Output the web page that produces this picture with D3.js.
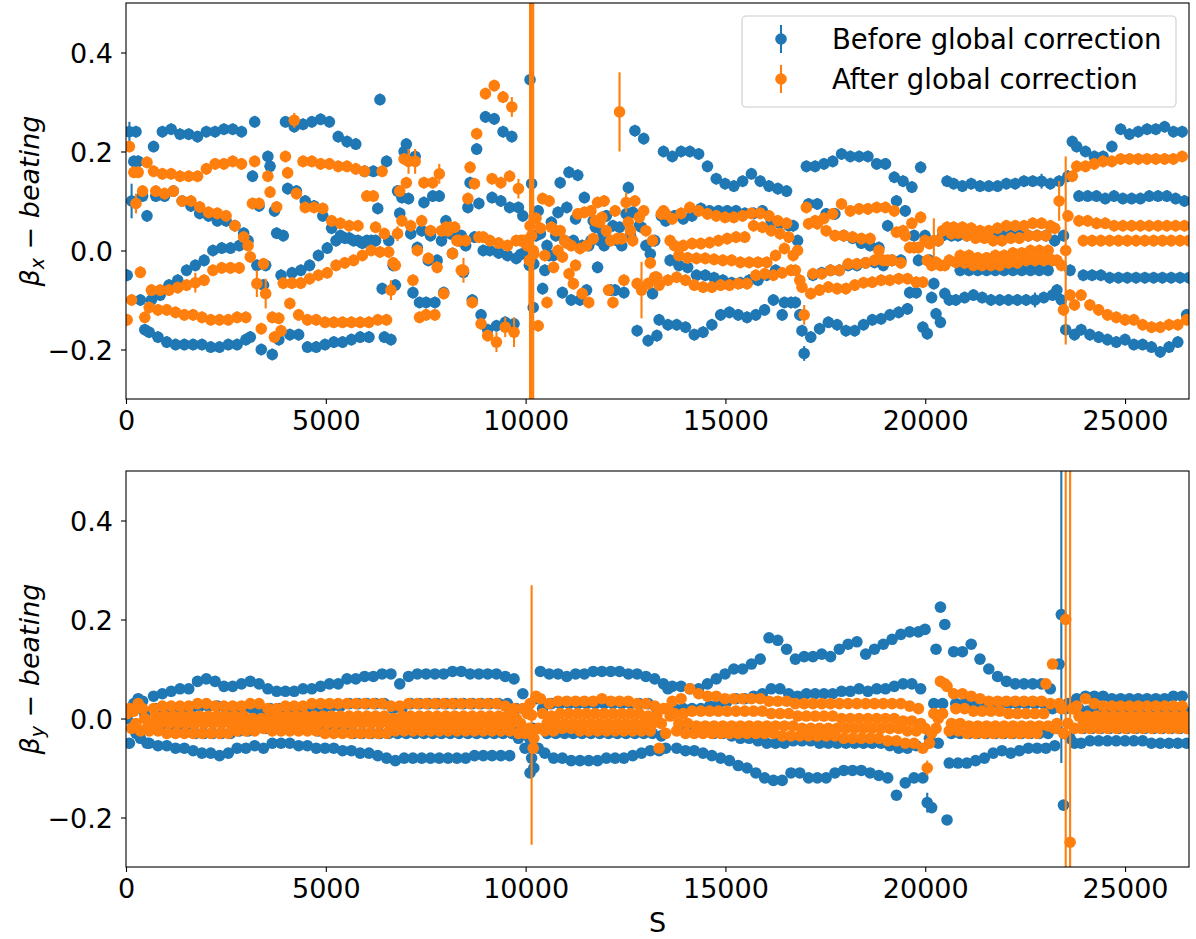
<!DOCTYPE html>
<html>
<head>
<meta charset="utf-8">
<script src="https://cdn.jsdelivr.net/npm/d3@7"></script>
<style>
  body { margin: 0; background: #fff; }
  svg { display: block; }
  text { font-family: "DejaVu Sans", sans-serif; }
</style>
</head>
<body>
<svg id="chart" width="1196" height="939"></svg>
<script>
// BPM longitudinal positions (m)
const S = [
30,85,140,195,250,305,360,415,470,525,
580,635,690,745,800,855,910,965,1020,1075,
1130,1185,1240,1295,1350,1405,1460,1515,1570,1625,
1680,1735,1790,1845,1900,1955,2010,2065,2120,2175,
2230,2285,2340,2395,2450,2505,2560,2615,2670,2725,
2780,2835,2890,2945,3000,3055,3110,3165,3220,3275,
3330,3385,3440,3495,3550,3605,3660,3715,3770,3825,
3880,3935,3990,4045,4100,4155,4210,4265,4320,4375,
4430,4485,4540,4595,4650,4705,4760,4815,4870,4925,
4980,5035,5090,5145,5200,5255,5310,5365,5420,5475,
5530,5585,5640,5695,5750,5805,5860,5915,5970,6025,
6080,6135,6190,6245,6300,6355,6410,6465,6520,6575,
6630,6685,6740,6795,6850,6905,6960,7015,7070,7125,
7180,7235,7290,7345,7400,7455,7510,7565,7620,7675,
7730,7785,7840,7895,7950,8005,8060,8115,8170,8225,
8280,8335,8390,8445,8500,8555,8610,8665,8720,8775,
8830,8885,8940,8995,9050,9105,9160,9215,9270,9325,
9380,9435,9490,9545,9600,9655,9710,9765,9820,9875,
9930,9985,10040,10095,10110,10150,10190,10205,10260,10315,10370,10425,
10480,10535,10590,10645,10700,10755,10810,10865,10920,10975,
11030,11085,11140,11195,11250,11305,11360,11415,11470,11525,
11580,11635,11690,11745,11800,11855,11910,11965,12020,12075,
12130,12185,12240,12295,12350,12405,12460,12515,12570,12625,
12680,12735,12790,12845,12900,12955,13010,13065,13120,13175,
13230,13285,13340,13395,13450,13505,13560,13615,13670,13725,
13780,13835,13890,13945,14000,14055,14110,14165,14220,14275,
14330,14385,14440,14495,14550,14605,14660,14715,14770,14825,
14880,14935,14990,15045,15100,15155,15210,15265,15320,15375,
15430,15485,15540,15595,15650,15705,15760,15815,15870,15925,
15980,16035,16090,16145,16200,16255,16310,16365,16420,16475,
16530,16585,16640,16695,16750,16805,16860,16915,16970,17025,
17080,17135,17190,17245,17300,17355,17410,17465,17520,17575,
17630,17685,17740,17795,17850,17905,17960,18015,18070,18125,
18180,18235,18290,18345,18400,18455,18510,18565,18620,18675,
18730,18785,18840,18895,18950,19005,19060,19115,19170,19225,
19280,19335,19390,19445,19500,19555,19610,19665,19720,19775,
19830,19885,19940,19995,20050,20105,20160,20215,20270,20325,
20380,20435,20490,20545,20600,20655,20710,20765,20820,20875,
20930,20985,21040,21095,21150,21205,21260,21315,21370,21425,
21480,21535,21590,21645,21700,21755,21810,21865,21920,21975,
22030,22085,22140,22195,22250,22305,22360,22415,22470,22525,
22580,22635,22690,22745,22800,22855,22910,22965,23020,23075,
23130,23185,23240,23295,23350,23405,23460,23515,23570,23625,
23680,23735,23790,23845,23900,23955,24010,24065,24120,24175,
24230,24285,24340,24395,24450,24505,24560,24615,24670,24725,
24780,24835,24890,24945,25000,25055,25110,25165,25220,25275,
25330,25385,25440,25495,25550,25605,25660,25715,25770,25825,
25880,25935,25990,26045,26100,26155,26210,26265,26320,26375,
26430,26485,26540,26595
];

// Horizontal beta-beating (%), before and after the global correction
const bxBefore = [
-5,24,10,18,24,18,-10,11,-16,7,
-16.5,-10,21,11,-17.5,-9,24,11,-18.5,-7,
24.5,12,-19,-6,23.5,10,-19,-4,23.5,9,
-19,-3,23,7.5,-19,-2,24,7,-19.5,0,
24,6,-19.5,0.5,24.5,6,-19,0.5,24.5,5,
-19,1,24,3.5,-18,2,-17.5,15,26,-3,
9,-20,-7,-3,19,17,-21,8,3.5,-18,
-5,3,26,12.5,-17,-4.5,25,12,-17,-4,
25.5,10,-19.5,-3,26,9,-19.5,-1,26.5,7,
-19,0.5,26,4.5,-18.5,2,23,3,-18.5,2.5,
22,2.5,-18,2,21.5,2,-17.5,1.5,16,2,
-17.5,2,16,2,8.5,30.5,-7.7,-17.5,18,2,
-18,-3,-7,12,7.5,10.7,20,21.5,10.5,3.4,
-8.5,19,0.6,-10.5,4,9.7,-10.5,-2,3,11,
-10.5,-2,11,2,-8.5,6,4,3.4,-0.6,3.4,
3,2,3,-4.4,1,8.7,13.7,-10,2.7,20.5,
9.5,-13,0,27,-16,0,10.7,26.6,-15.2,-0.5,
10,24,-14.5,-1,8.7,23,-14.8,-1.6,8.7,-0.8,
7,-0.5,0.5,-3,34.5,13.5,-11.5,-2.7,3,8,3.4,-7.7,
-4,1,-1,5.7,-1,3,7.7,13.7,-8.5,2,
8.7,15.8,-10,2,6.4,15.2,-10,1,10.7,-8,
1,2,6,4.7,-3.4,2,4,1,7,2,
-8,5,-8,2,4.7,1,-8.5,7.4,12.7,3,
7.7,24.2,-16.2,5,4.7,22.6,1,-18.2,-0.7,-8.7,
2,-17.2,-14,7,20,6,-15,-2,19,7,
-15,-3,20,6.4,-15.5,-3.4,20,7,-17,-5,
19.5,8.5,-16.5,-5,17,8,-15,-5.5,14.5,8,
-13,-6,13.5,8,-12.5,-6.5,13,8,-13,-6.5,
14,7.5,-13.5,-6,15.5,7.5,-13,-6,14,8,
-12,-5,13,6,-10,-4,12.5,5.5,-13,-10.5,
12,5,-10.5,5,-10.5,2,-13,-16.2,-20.8,17,
9.4,-17.5,-5,17,9.4,-15.8,-4.5,17.5,7.4,-14.5,
-4,18,7.4,-15,-4,19.5,3,-16.2,-3,19,
2.5,-16.2,-3,19,1.5,-15,-2.5,19,1,-14,
-2.4,17.5,0.6,-13.8,-3,17.5,5,-13,-2,14.8,
10,-12.5,-2,14,8,-11.8,-8.5,12.8,3,-8.5,
-2,16.8,-15.5,3,-16.8,-2,-9.5,-6.7,-12.8,2,
-14.5,3,-8.7,14,-10,3,13.5,-10,3,-4,
13,-9.5,3,-4,13.5,-9,3,-4,13,-9.5,
3,-4,13,-10,3,-4,13,-10,3,-4,
13.5,-10,3,-4,13.5,-10,3,-4,14,-10,
3,-4,14,-10,3,-4,14,-9.5,3,-4,
13.5,-9,2,-8,14,-10,3,-16,15,-4,
22,-17,21,11,-16,-5,20,11,-17,-5,
19,11,-17.5,-5,19,10.5,-18,-5.5,21,11,
-18.5,-5.5,24.5,10.5,-18,-5.5,23.5,10.5,-19,-5.5,
24,10.5,-19,-5.5,24.5,11,-19.5,-5.5,24.5,11,
-20.5,-5.5,25,11,-19.5,-5.5,24,10.5,-18.5,-5.5,
24,10,-13,-5.5
];
const bxAfter = [
-14,21,-10,15.8,9.5,15.8,-4.4,12,-13.5,17.8,
-11.5,-8,16,12,-12,-8,15.5,11.5,-12,-8,
15.5,12,-12.5,-7.5,15,10,-13,-7,15,10,
-13,-6.5,15,8.8,-13.5,-6,16.5,7.7,-14,-4,
17.5,7.5,-14,-3.5,17.5,7,-14,-3.5,18,5,
-13.5,-3.5,17.5,2.7,-13.5,1,-1.3,9.5,18,-6.7,
9.5,-15.8,-2.7,-8.7,15,11.8,-13.5,-17.5,8.8,-13.7,
-16.2,-6.6,19,15.7,-10.7,-6.6,26.3,11.5,-13,-6.6,
18,8.7,-14,-5.7,18,8.7,-14,-5,17.5,8.5,
-14.5,-4.5,17.5,6,-14.5,-3,17,5.5,-14.5,-2.5,
17,5,-14.5,-2,16.5,5,-14.5,-1,16,11,
-14.5,0,11,4.7,-14,-0.3,16,3.4,-14,-0.3,
-8,-2.5,-3,3.4,12,6,18.5,13.7,18,5,
-6,18,0,-13.5,6,13.7,-13,-1.6,4,13.7,
-13,-3.4,15.5,4,-8.7,4.7,4,4.7,-0.6,4.7,
2,2,-4,-4,2,10.5,16.8,-10.5,13.5,23.6,
2.7,-14.8,2.7,31.7,-17.2,2,14.5,33.3,-18.5,1.5,
13.7,31,-15.5,1,15,29,-16.5,2,12.5,2,
2,2,1,-2,5,3,0,-0.7,6.5,-15.2,4.5,10.5,
-1,-10.5,10,4.7,-3.4,4,0,4,-1.3,2,
1.5,-4.7,1,-6.7,-3,7.4,0.4,-8.7,7.7,1,
-10.5,8,2.4,6,9.7,5.7,6.7,10,4,-8,
2,-10.5,8,2.4,28,2.4,-6,9.7,5.7,4,
2,10,-6.7,6.7,-8,8,4,-6.7,-2.5,2,
-5.4,-5.4,-7,7.4,8,7.4,-6,2,6.4,1,
-5.4,-1,7.5,1,-6,-1.5,8.7,1.4,-7,-1.6,
8,1.4,-7.4,-1.6,7.4,1.6,-7.4,-1.8,7,2,
-7,-2,6.7,2.4,-7,-2,6.7,2.7,-6.7,-2.4,
7,2.7,-6.7,-2.4,7.5,5,-5,-2.4,7.5,4.7,
-4.7,-2.4,7,4,-5,-1,6,3.4,-4.5,0.4,
5.5,2.7,-4,-1,-4,0,-6,-7.4,-13,8.7,
5.4,-8.7,-4.7,6,5.4,-8,-4.7,6.5,4,-7.4,
-4,7.4,3,-7.7,-4,9.4,3,-7.7,-2.7,8,
2.7,-7,-2.7,8.4,2.4,-6.5,-2.5,8.4,2.4,-6.4,
-2,8.7,0,-6,-2,8.7,-2,-6,-2,8,
3.7,-5.7,-2.5,4,3,-5.7,0.6,5.5,0.6,-6.4,
0.6,6.7,-6.4,2,-2,1.4,-3,2,-2.4,2,
-3,4,-3,4.7,-2,3.4,4.7,-2.4,3.5,-1,
4.7,-2.5,3,-1,4.5,-3,2.5,-1.5,4,-3,
2.5,-1.5,4,-3,2,-1,4.5,-3,2,-1,
5,-2.5,2.5,-0.5,5,-2.5,2.5,-0.5,5,-2,
3,0,5.5,-2,3,0,5.5,-2,3,0,
5,-2,4.5,-2,10,-3,-12,0,7,-9,
15,-11,17,6,-9,2,17,6,-11,2,
17.5,5.5,-12,2,18,5.5,-13,2,18,5,
-13.5,2,18.5,5,-14,2,18.5,5,-14,2,
18.5,5,-15,2,18.5,5,-15.5,2,18.5,5,
-15.5,2,18.5,5,-15,2,18.5,5,-15,2,
19,5,-14,2
];

// Vertical beta-beating (%), before and after the global correction
const byBefore = [
0,-5,2,3,-3,4,-4,3.5,1,-5,
-5,-2,4.5,2,-5.5,-2,5,2,-5.5,-2.5,
5.5,2,-6,-2.5,6,2,-6,-2.5,6,2,
-6.5,-3,7.5,2.5,-7,-3,8,2.5,-7,-3,
7.5,2.5,-7.5,-3,6.5,2,-7,-3,6.5,2,
-6,-2.5,7,2,-6,-2.5,7.5,2,-5.5,-2,
7,1,-6,-2,6,2,-5,-2,5.5,2,
-5,-2,5.5,2,-5,-2,5.5,2,-5.5,-2,
6,2,-5.5,-2,6,2,-6,-2.5,6.5,2,
-6,-2.5,7,2.5,-6,-2.5,7,2.5,-6.5,-2.5,
8,3,-6.5,-3,8,3,-7,-3,8.5,3,
-7,-3,8.5,3,-7.5,-3,9,3,-8,-3,
9,2,-8.5,-3,7,2,-8,-3,8.5,3,
-8,-3,9,3,-8,-3,9,3,-8,-3,
9,3,-8,-3,9,3,-8,-3,9.5,3,
-8,-3,9.5,3,-8,-3,9,3,-7.5,-3,
9,3,-7.5,-3,9,3,-7.5,-3,9,3,
-7.5,-3,8.5,3,-7.5,-3,8,2,-4,-2,
5,-6,2,-4,-11,-8,-2,-10,4,-6,9.5,2,
-7,-3,9,3,-8,-3,9,3,-8,-3,
8.5,3,-8.5,-3,9,3,-8.5,-3,9,3,
-8.5,-3,9.5,3,-8.5,-3,9.5,3,-8,-3,
9.5,3,-8,-3,9.5,3,-8,-3,9,3,
-7.5,-3,9,3,-7,-3,8.5,3,-6.5,-3,
8,2,-6.5,-3.5,7,-6,6,2,6.5,2,
-6,-2,6.5,2,-6.5,-2.5,6,2,-6.5,-2.5,
6,2,-7,-2.5,7,2.5,-7.5,-3,8,3,
-8,-3,9,3.5,-8.5,-3.5,10,4,-9.5,-4,
10,4,-10,-4,11,4.5,-11,-4.5,12,5,
-12,-5,16.3,6,-12.5,-5,15.8,6,-12.5,-5,
14,5,-11,-4.5,12,4.5,-11,-4.5,12.5,5,
-12,-4.5,12.5,5,-12,-5,13,5,-12,-5,
12.5,5,-11,-5,14,5.5,-10.5,-5,15,5.5,
-10.5,-5,15.5,6,-10.5,-5,13,5.5,-11,-5,
14,6,-11.5,-5,15,6,-12,-5.5,16,6.5,
-15.5,-6,17,7,-13,-6,17.5,7,-12,-5.5,
17.5,6,-12,18,-17,-4,-18,3,14,-5,
22.5,3,19,-20.5,-9,-3,13.5,3,-9,-3,
13.5,3,-9,-3,15,3,-8.5,-3,12,3,
-8,-3,10,3,-7,-3,8.5,3,-6.5,-3,
7.5,3,-7,-3,7,3,-6.5,-3,7,3,
-6,-3,7,3,-6,-3,7,3,-6,-3,
6,2,-5.5,-2,11,21,-17.5,2,3,-4,
3,-5,4,2,-5,-2,4.5,1.5,-4.5,-2,
4.5,1.5,-4.5,-2,4.5,1.5,-4.5,-2,4,1.5,
-4.5,-2,4,1.5,-4.5,-2,4,1.5,-4.5,-2,
4,1.5,-4.5,-2,4,1.5,-5,-2,4,1.5,
-5,-2,4,1.5,-5,-2,4.5,1.5,-5,-2,
4.5,1.5,-5,-2
];
const byAfter = [
1,2,-2,1.5,-1,3,-2.5,2,0,-2,
-2.5,-1,2,0.5,-2.5,-1,2.5,0.5,-3,-1,
2.5,0.5,-3,-1,2.5,0.5,-3,-1,2.5,0.5,
-3,-1,3,0.5,-3,-1,3,0.5,-3,-1,
2.5,0.5,-3,-1,2.5,0.5,-3,-1,2.5,0.5,
-2.5,-1,2.5,0.5,-2.5,-1,3,0,-2.5,-1,
3,0,-2,-1,2,0.5,-2.5,-1,2,0.5,
-2.5,-1,2.5,0.5,-2.5,-1,2.5,0.5,-2.5,-1,
2.5,0.5,-2.5,-1,3,0.5,-2.5,-1,3,0.5,
-3,-1,3,0.5,-3,-1,3,0.5,-3,-1,
3,0.5,-3,-1,3,0.5,-3,-1,3,0.5,
-3,-1,3,0.5,-3,-1,3,0.5,-3,-1,
2.5,0,-2.5,-1,2.5,0.5,-2.5,-1,3,0.5,
-2.5,-1,3,0.5,-2.5,-1,3,0.5,-2.5,-1,
3,0.5,-2.5,-1,3,0.5,-2.5,-1,3,0.5,
-2.5,-1,3,0.5,-2.5,-1,3,0.5,-2.5,-1,
3,0.5,-2.5,-1,3,0.5,-2.5,-1,3,0.5,
-2.5,-1,2.5,0.5,-2.5,-1,2,0,-3,-1,
2,-3,1,-2,3,0.7,-6,-4,4.5,-2,4,1,
-2.5,-1,3,0.5,-2.5,-1,3.5,1,-2,-1,
3.5,1,-2,-1,3.5,1,-2.5,-1,3.5,1,
-2.5,-1,3.5,1,-2.5,-1,4,1,-2.5,-1,
3.5,1,-2.5,-1,3.5,1,-2.5,-1,3.5,1,
-2.5,-1,3,1,-2.5,-1,3,0.5,-2.5,-1,
2.5,0.5,-6,-1,2,-3,2,0.5,3.5,1,
-2.5,-1,4,1,-3,-1,6,1.5,-3,-1.5,
5,1.5,-3,-1.5,4.5,1.5,-3,-1.5,4.5,1.5,
-3,-1.5,4,1.5,-3,-1.5,4,1.5,-3,-1.5,
4,1.5,-3,-1.5,4,1.5,-3,-1.5,4,1.5,
-3,-1.5,3.5,1,-3,-1.5,3.5,1,-3.5,-1.5,
3.5,1,-3.5,-1.5,3,0.5,-3.5,-2,3,0.5,
-3.5,-2,3,0.5,-3.5,-2,3,0.5,-3.5,-2,
3,0.5,-3.5,-2,3,0,-4,-2,3,0,
-4,-2,3,0,-4,-2,3,0,-4,-2,
3,0,-4,-2,3,0,-4.5,-2,3,0,
-4.5,-2,3,-0.5,-5,-2.5,2.5,-0.5,-5,-2.5,
2,-1,-6,-2,-10,-5,-3,1,-2,0,
7.5,1,7,6.5,-2.5,-1,5,2,-2.5,-1,
5,2,-3,-1.5,4.5,1.5,-3,-1.5,4,1.5,
-3,-1.5,3.5,1.5,-3,-1.5,3.5,1.5,-3,-1.5,
3.5,1,-3,-1.5,3.5,1,-3,-1.5,3.5,1,
-3,-1.5,3.5,1,-3,-1.5,3.5,1,7,-1.5,
3,11,-2,-1,3,2,-3,20,-1,-25,
2,-2,2.5,0.5,-2,-1,4,0.5,-2,-1,
3,0.5,-2,-1,2.5,0.5,-2,-1,2.5,0.5,
-2,-1,2.5,0.5,-2,-1,2.5,0.5,-2,-1,
2.5,0.5,-2,-1,2.5,0.5,-2,-1,2.5,0.5,
-2,-1,2.5,0.5,-2,-1,2.5,0.5,-2,-1,
2.5,0.5,-2,-1
];

// Measurement uncertainties (%): a typical value per series plus [s, error] exceptions
const bxBeforeErrDefault = 1.2;
const bxAfterErrDefault = 1.2;
const byBeforeErrDefault = 1.0;
const byAfterErrDefault = 1.0;
const bxBeforeErr = [[85,2],[140,3.5],[6300,1.2],[16970,1.5],[22745,1.5],[22910,1.5]];
const bxAfterErr = [[250,2],[1735,2],[3275,2.7],[3495,3],[4210,1.5],[6630,2],[6795,1.5],[7070,2.5],[7235,2.5],
  [7840,2],[8445,2.5],[9270,2],[9490,2],[9655,2],[9710,3],[9820,2],[10095,9],[10110,60],[10150,60],[10190,60],
  [12350,8],[12515,2],[12900,5.7],[16970,2],[20215,4.5],[23350,4],[23515,19]];
const byBeforeErr = [[20050,2],[23405,30]];
const byAfterErr = [[10150,26.2],[20050,1.5],[23515,50],[23625,80]];

const seriesNames = ["Before global correction", "After global correction"];
const colors = ["#1f77b4", "#ff7f0e"];
const xTicks = [0, 5000, 10000, 15000, 20000, 25000];
const yTicks = [-0.2, 0.0, 0.2, 0.4];
const xDomain = [0, 26600];
const yDomain = [-0.3, 0.5];

const svg = d3.select("#chart");
const FS = 27;
const R = 5.8;
const left = 126, right = 1189, panelH = 396;
const x = d3.scaleLinear().domain(xDomain).range([left, right]);

function drawPanel(top, before, after, errs, defs, sub, withLegend) {
  const y = d3.scaleLinear().domain(yDomain).range([top + panelH, top]);
  const clipId = "clip" + top;
  svg.append("clipPath").attr("id", clipId)
    .append("rect").attr("x", left).attr("y", top).attr("width", right - left).attr("height", panelH);
  const plot = svg.append("g").attr("clip-path", `url(#${clipId})`);

  [before, after].forEach((vals, k) => {
    const em = new Map(errs[k]);
    const pts = S.map((s, i) => ({ s, v: vals[i] / 100, e: (em.has(s) ? em.get(s) : defs[k]) / 100 }))
      .filter(d => d.v != null);
    const g = plot.append("g");
    g.append("g").selectAll("line").data(pts).join("line")
      .attr("x1", d => x(d.s)).attr("x2", d => x(d.s))
      .attr("y1", d => y(d.v - d.e)).attr("y2", d => y(d.v + d.e))
      .attr("stroke", colors[k]).attr("stroke-width", 2.1);
    g.append("g").selectAll("circle").data(pts).join("circle")
      .attr("cx", d => x(d.s)).attr("cy", d => y(d.v)).attr("r", R)
      .attr("fill", colors[k]);
  });

  // axes
  const xa = svg.append("g").attr("transform", `translate(0,${top + panelH})`)
    .call(d3.axisBottom(x).tickValues(xTicks).tickFormat(d3.format("d")).tickSize(5).tickPadding(7).tickSizeOuter(0));
  const ya = svg.append("g").attr("transform", `translate(${left},0)`)
    .call(d3.axisLeft(y).tickValues(yTicks).tickFormat(d3.format(".1f")).tickSize(5).tickPadding(8).tickSizeOuter(0));
  [xa, ya].forEach(a => {
    a.select(".domain").remove();
    a.selectAll("line").attr("stroke", "#000").attr("stroke-width", 1.1);
    a.selectAll("text").attr("font-size", FS).attr("fill", "#000")
      .style("font-family", '"DejaVu Sans", sans-serif');
  });
  ya.selectAll("text").attr("dy", "0.37em");

  svg.append("rect").attr("x", left).attr("y", top).attr("width", right - left).attr("height", panelH)
    .attr("fill", "none").attr("stroke", "#000").attr("stroke-width", 1.1);

  // y label
  const yl = svg.append("text").attr("transform", `translate(39,${top + panelH / 2}) rotate(-90)`)
    .attr("text-anchor", "middle").attr("font-size", FS);
  yl.append("tspan").attr("font-style", "italic").text("β");
  yl.append("tspan").attr("font-style", "italic").attr("font-size", 19).attr("dy", 5).text(sub);
  yl.append("tspan").attr("dy", -5).text(" \u2212 ");
  yl.append("tspan").attr("font-style", "italic").text("beating");

  if (withLegend) {
    const lg = svg.append("g");
    lg.append("rect").attr("x", 742).attr("y", 16).attr("width", 434).attr("height", 91).attr("rx", 4)
      .attr("fill", "#fff").attr("fill-opacity", 0.8).attr("stroke", "#cccccc").attr("stroke-width", 1.1);
    seriesNames.forEach((name, k) => {
      const cy = 39 + 40 * k;
      lg.append("line").attr("x1", 781).attr("x2", 781).attr("y1", cy - 14).attr("y2", cy + 14)
        .attr("stroke", colors[k]).attr("stroke-width", 2.1);
      lg.append("circle").attr("cx", 781).attr("cy", cy).attr("r", R).attr("fill", colors[k]);
      lg.append("text").attr("x", 832).attr("y", cy + 9.5).attr("font-size", 27.5).text(name);
    });
  }
}

drawPanel(3, bxBefore, bxAfter, [bxBeforeErr, bxAfterErr], [bxBeforeErrDefault, bxAfterErrDefault], "x", true);
drawPanel(471, byBefore, byAfter, [byBeforeErr, byAfterErr], [byBeforeErrDefault, byAfterErrDefault], "y", false);

svg.append("text").attr("x", (left + right) / 2).attr("y", 932).attr("text-anchor", "middle")
  .attr("font-size", FS).text("S");
</script>
</body>
</html>
